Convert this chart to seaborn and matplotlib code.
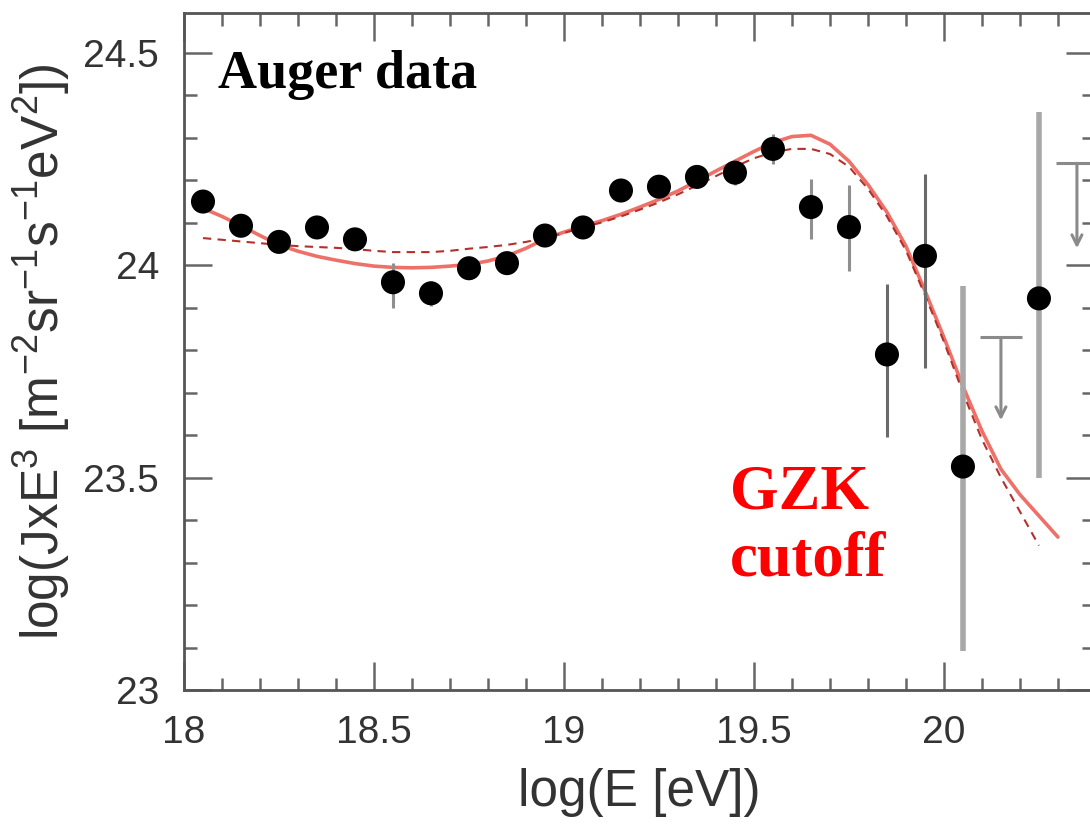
import matplotlib
matplotlib.use("Agg")
import matplotlib.pyplot as plt
import seaborn as sns
import pandas as pd

# ---------------- data ----------------
energy = [18.05, 18.15, 18.25, 18.35, 18.45, 18.55, 18.65, 18.75, 18.85, 18.95,
          19.05, 19.15, 19.25, 19.35, 19.45, 19.55, 19.65, 19.75, 19.85, 19.95,
          20.05, 20.25]
flux = [24.150, 24.093, 24.055, 24.089, 24.061, 23.960, 23.934, 23.993, 24.005, 24.070,
        24.089, 24.176, 24.185, 24.208, 24.218, 24.274, 24.137, 24.090, 23.790, 24.022,
        23.526, 23.922]
err_lo = [0.015, 0.015, 0.015, 0.02, 0.02, 0.06, 0.03, 0.02, 0.02, 0.02,
          0.02, 0.02, 0.025, 0.025, 0.03, 0.035, 0.075, 0.104, 0.194, 0.264,
          0.434, 0.423]
err_hi = [0.015, 0.015, 0.015, 0.02, 0.02, 0.045, 0.03, 0.02, 0.02, 0.02,
          0.02, 0.02, 0.025, 0.025, 0.03, 0.035, 0.066, 0.099, 0.165, 0.193,
          0.425, 0.438]

limit_energy = [20.15, 20.35]
limit_flux = [23.83, 24.24]
limit_tip = [23.635, 24.04]

model_energy = [18.05, 18.10, 18.15, 18.20, 18.25, 18.30, 18.35, 18.40, 18.45, 18.50,
                18.55, 18.60, 18.65, 18.70, 18.75, 18.80, 18.85, 18.90, 18.95, 19.00,
                19.05, 19.10, 19.15, 19.20, 19.25, 19.30, 19.35, 19.40, 19.45, 19.50,
                19.55, 19.60, 19.65, 19.70, 19.75, 19.80, 19.85, 19.90, 19.95, 20.00,
                20.05, 20.10, 20.15, 20.20, 20.25, 20.30]
model_solid = [24.134, 24.115, 24.093, 24.070, 24.048, 24.033, 24.021, 24.012, 24.004, 23.998,
               23.995, 23.994, 23.995, 23.998, 24.002, 24.010, 24.022, 24.040, 24.062, 24.078,
               24.092, 24.105, 24.120, 24.137, 24.155, 24.175, 24.198, 24.222, 24.245, 24.268,
               24.289, 24.303, 24.306, 24.285, 24.245, 24.190, 24.125, 24.045, 23.940, 23.830,
               23.715, 23.610, 23.520, 23.460, 23.410, 23.360]
model_dashed = [24.064, 24.060, 24.056, 24.052, 24.048, 24.045, 24.043, 24.041, 24.038, 24.034,
                24.031, 24.031, 24.031, 24.034, 24.039, 24.043, 24.048, 24.055, 24.064, 24.076,
                24.089, 24.101, 24.115, 24.131, 24.148, 24.167, 24.188, 24.210, 24.232, 24.252,
                24.266, 24.274, 24.274, 24.262, 24.232, 24.180, 24.115, 24.035, 23.930, 23.820,
                23.700, 23.590, 23.500, 23.420, 23.340]

xticks = [18, 18.5, 19, 19.5, 20]
xtick_labels = ["18", "18.5", "19", "19.5", "20"]
yticks = [23, 23.5, 24, 24.5]
ytick_labels = ["23", "23.5", "24", "24.5"]

points = pd.DataFrame({"E": energy, "F": flux})
solid_df = pd.DataFrame({"E": model_energy, "F": model_solid})
dashed_df = pd.DataFrame({"E": model_energy[:len(model_dashed)], "F": model_dashed})

# ---------------- style ----------------
sns.set_theme(style="ticks")
plt.rcParams["font.family"] = ["Liberation Sans", "DejaVu Sans"]
plt.rcParams["mathtext.default"] = "regular"

fig = plt.figure(figsize=(10.9, 8.32), dpi=100)
ax = fig.add_axes([0.1688, 0.1707, 0.8349, 0.8137])

# model curves
sns.lineplot(data=solid_df, x="E", y="F", ax=ax, color="#ec6258", lw=2.6,
             sort=False, zorder=2, alpha=0.9)
sns.lineplot(data=dashed_df, x="E", y="F", ax=ax, color="#b5302a", lw=1.5,
             sort=False, zorder=2.5, dashes=False, linestyle=(0, (4, 3)))

# error bars (grey shades)
groups = [(0, 18, "#8f8f8f", 2.2), (18, 20, "#6a6a6a", 2.2), (20, 22, "#a8a8a8", 4.0)]
for a, b, col, lw in groups:
    ax.errorbar(energy[a:b], flux[a:b], yerr=[err_lo[a:b], err_hi[a:b]],
                fmt="none", ecolor=col, elinewidth=lw, capsize=0, zorder=3)

# upper limits
for xe, yc, yt in zip(limit_energy, limit_flux, limit_tip):
    ax.hlines(yc, xe - 0.055, xe + 0.055, color="#8a8a8a", lw=2.2, zorder=3)
    ax.annotate("", xy=(xe, yt), xytext=(xe, yc),
                arrowprops=dict(arrowstyle="->,head_length=0.6,head_width=0.3",
                                color="#8a8a8a", lw=2.2, shrinkA=0, shrinkB=0),
                zorder=3)

# data points
sns.scatterplot(data=points, x="E", y="F", ax=ax, color="black", s=300,
                edgecolor="none", zorder=4, legend=False)

# axes
ax.set_xlim(18.0, 20.395)
ax.set_ylim(23.0, 24.594)
ax.set_xticks(xticks)
ax.set_xticklabels(xtick_labels)
ax.set_yticks(yticks)
ax.set_yticklabels(ytick_labels)
ax.set_xticks([18.1, 18.2, 18.3, 18.4, 18.6, 18.7, 18.8, 18.9, 19.1, 19.2, 19.3, 19.4,
               19.6, 19.7, 19.8, 19.9, 20.1, 20.2, 20.3], minor=True)
ax.set_yticks([23.1, 23.2, 23.3, 23.4, 23.6, 23.7, 23.8, 23.9, 24.1, 24.2, 24.3, 24.4],
              minor=True)

for sp in ax.spines.values():
    sp.set_color("#555555")
    sp.set_linewidth(2)
    sp.set_visible(True)

ax.tick_params(which="both", direction="in", top=True, right=True, color="#666666",
               width=1.8, labelcolor="#333333", labelsize=28, pad=18)
ax.tick_params(which="major", length=20)
ax.tick_params(which="minor", length=9)

ax.set_xlabel("log(E [eV])", fontsize=37, color="#333333", labelpad=12)
ax.set_ylabel(r"log(JxE$^3$ [m$^{-2}$sr$^{-1}$s$^{-1}$eV$^2$])", fontsize=37,
              color="#333333", labelpad=8)

# annotations
ax.text(0.0374, 0.889, "Auger data", transform=ax.transAxes, fontsize=39,
        fontweight="bold", family="Liberation Serif", color="black", va="baseline")
ax.text(19.437, 23.427, "GZK", fontsize=45, fontweight="bold",
        family="Liberation Serif", color="#ff0000", va="baseline")
ax.text(19.437, 23.269, "cutoff", fontsize=45, fontweight="bold",
        family="Liberation Serif", color="#ff0000", va="baseline")

fig.savefig("out.png", dpi=100, facecolor="white")
